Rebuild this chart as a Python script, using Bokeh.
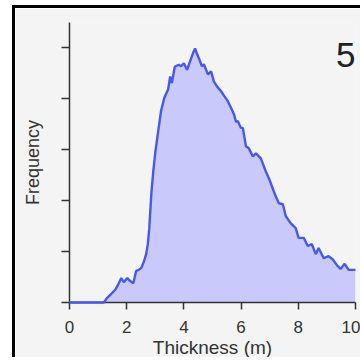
from bokeh.plotting import figure
from bokeh.models import FixedTicker, Label, ColumnDataSource
from bokeh.embed import file_html
from bokeh.resources import INLINE

thickness = [0.0, 1.2, 1.3, 1.46, 1.6, 1.7, 1.81, 1.9, 2.02, 2.1, 2.23, 2.33, 2.42, 2.51, 2.6,
             2.68, 2.74, 2.79, 2.86, 2.93, 3.0, 3.1, 3.2, 3.31, 3.38, 3.45, 3.52, 3.58, 3.68,
             3.82, 3.9, 4.0, 4.11, 4.18, 4.25, 4.32, 4.39, 4.46, 4.53, 4.63, 4.7, 4.77, 4.84,
             4.95, 5.05, 5.15, 5.3, 5.42, 5.54, 5.65, 5.75, 5.82, 5.89, 5.99, 6.06, 6.17, 6.27,
             6.41, 6.52, 6.69, 6.86, 7.0, 7.1, 7.2, 7.32, 7.46, 7.56, 7.73, 7.91, 8.01, 8.19,
             8.33, 8.47, 8.61, 8.71, 8.89, 9.06, 9.2, 9.37, 9.48, 9.62, 9.76, 9.88, 10.0]
frequency = [0.0, 0.0, 0.08, 0.17, 0.25, 0.35, 0.48, 0.40, 0.48, 0.43, 0.38, 0.62, 0.64, 0.68, 0.80,
             0.95, 1.15, 1.46, 2.13, 2.58, 2.95, 3.36, 3.76, 4.01, 4.10, 4.19, 4.44, 4.31, 4.63,
             4.67, 4.64, 4.70, 4.57, 4.68, 4.79, 4.90, 4.99, 4.88, 4.79, 4.64, 4.68, 4.58, 4.48,
             4.54, 4.34, 4.25, 4.15, 4.05, 3.95, 3.82, 3.70, 3.55, 3.56, 3.43, 3.43, 3.07, 3.03,
             2.87, 2.93, 2.83, 2.58, 2.40, 2.25, 2.10, 1.95, 1.93, 1.70, 1.56, 1.46, 1.27, 1.27,
             1.11, 1.15, 0.95, 1.07, 0.87, 0.91, 0.85, 0.72, 0.66, 0.76, 0.64, 0.64, 0.64]
x_ticks = [0, 2, 4, 6, 8, 10]
y_ticks = [0, 1, 2, 3, 4, 5]
panel_label = "5"

src = ColumnDataSource(dict(x=thickness, y=frequency, y0=[0.0] * len(thickness)))

p = figure(width=348, height=352, x_range=(0, 10), y_range=(0, 5.5),
           output_backend="svg", toolbar_location=None,
           min_border_left=54, min_border_right=8, min_border_top=14, min_border_bottom=58)
p.border_fill_color = "#f4f4f4"
p.background_fill_color = "#f4f4f4"
p.outline_line_color = None
p.xgrid.visible = False
p.ygrid.visible = False
p.styles = {"margin-left": "12px", "margin-top": "5px",
            "border-left": "3px solid black", "border-top": "3px solid black"}

p.varea(x="x", y1="y0", y2="y", source=src, fill_color="#c9c9fb", fill_alpha=1.0)
p.line(x="x", y="y", source=src, line_color="#4658f0", line_width=2.4, level="overlay")

for ax in (p.xaxis[0], p.yaxis[0]):
    ax.axis_line_color = "#333333"
    ax.axis_line_width = 1.5
    ax.major_tick_line_color = "#333333"
    ax.major_tick_line_width = 1.5
    ax.minor_tick_line_color = None
    ax.major_tick_in = 0
    ax.axis_label_text_font = "Liberation Sans"
    ax.axis_label_text_font_style = "normal"
    ax.axis_label_text_color = "#333333"
    ax.major_label_text_font = "Liberation Sans"
    ax.major_label_text_color = "#333333"

p.xaxis.ticker = FixedTicker(ticks=x_ticks)
p.xaxis.major_tick_out = 7
p.xaxis.major_label_text_font_size = "17px"
p.xaxis.major_label_standoff = 11
p.xaxis.axis_label = "Thickness (m)"
p.xaxis.axis_label_text_font_size = "19px"
p.xaxis.axis_label_standoff = 1

p.yaxis.ticker = FixedTicker(ticks=y_ticks)
p.yaxis.major_tick_out = 8
p.yaxis.major_label_overrides = {t: "" for t in y_ticks}
p.yaxis.axis_label = "Frequency"
p.yaxis.axis_label_text_font_size = "18px"
p.yaxis.axis_label_standoff = 19

p.add_layout(Label(x=10, y=4.87, text=panel_label, text_align="right",
                   text_baseline="alphabetic", text_font="Liberation Sans",
                   text_font_size="35px", text_color="#222222"))

open("out.html", "w").write(file_html(p, INLINE))
